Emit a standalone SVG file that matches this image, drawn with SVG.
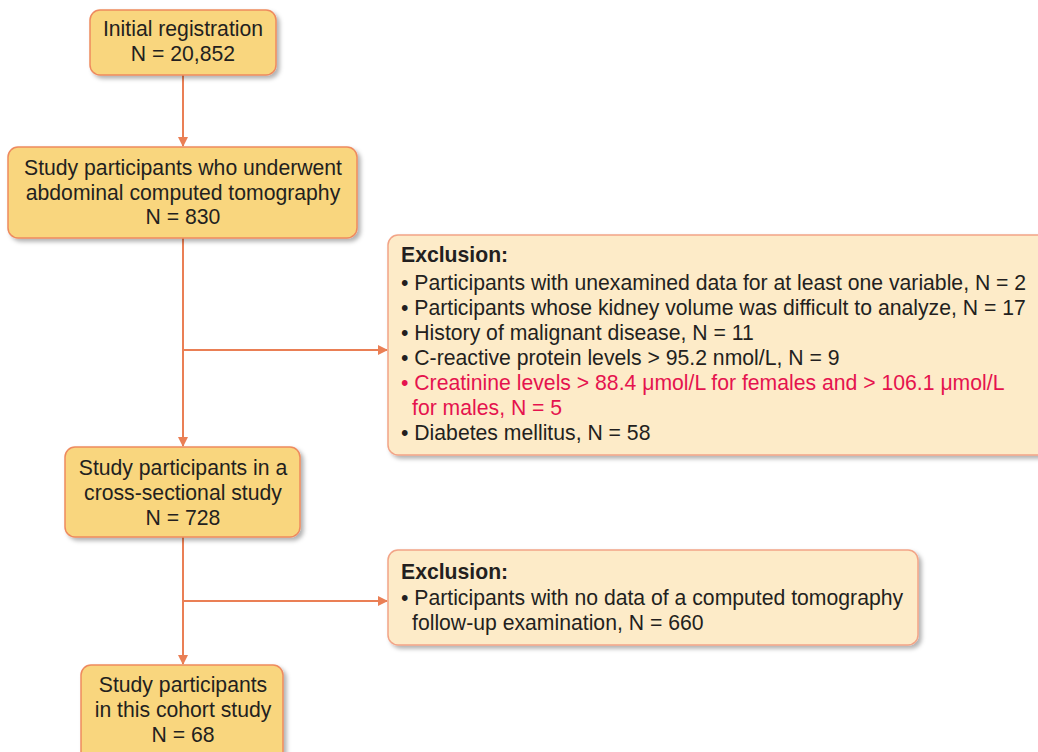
<svg xmlns="http://www.w3.org/2000/svg" width="1038" height="752" viewBox="0 0 1038 752">
<defs>
<style>
.main{fill:#F9D67E;stroke:#EE8A5E;stroke-width:1.5}
.excl{fill:#FDEBC8;stroke:#F2A487;stroke-width:1.5}
.t{font-family:"Liberation Sans",Arial,sans-serif;font-size:21.2px;fill:#231F20}
.c{text-anchor:middle}
.b{font-weight:bold}
.red{fill:#E5134E}
.conn{stroke:#EA7F55;stroke-width:2;fill:none}
</style>
<filter id="sh" x="-10%" y="-10%" width="120%" height="130%">
<feDropShadow dx="3" dy="3" stdDeviation="2" flood-color="#000" flood-opacity="0.3"/>
</filter>
<marker id="ar" viewBox="0 0 10 10" refX="9" refY="5" markerWidth="10" markerHeight="10" orient="auto" markerUnits="userSpaceOnUse">
<path d="M0,0 L10,5 L0,10 z" fill="#EA7F55"/>
</marker>
</defs>
<g id="connectors">
<line class="conn" x1="183" y1="75" x2="183" y2="146" marker-end="url(#ar)"/>
<line class="conn" x1="183" y1="238" x2="183" y2="446" marker-end="url(#ar)"/>
<line class="conn" x1="183" y1="350" x2="387" y2="350" marker-end="url(#ar)"/>
<line class="conn" x1="183" y1="537" x2="183" y2="664" marker-end="url(#ar)"/>
<line class="conn" x1="183" y1="601" x2="387" y2="601" marker-end="url(#ar)"/>
</g>
<g id="n1">
<rect class="main" x="90" y="10" width="186" height="65" rx="10" filter="url(#sh)"/>
<text class="t c" x="183" y="36">Initial registration</text>
<text class="t c" x="183" y="61">N = 20,852</text>
</g>
<g id="n2">
<rect class="main" x="8" y="147" width="349" height="91" rx="10" filter="url(#sh)"/>
<text class="t c" x="183" y="175">Study participants who underwent</text>
<text class="t c" x="183" y="200">abdominal computed tomography</text>
<text class="t c" x="183" y="224">N = 830</text>
</g>
<g id="ex1">
<rect class="excl" x="388" y="235" width="670" height="220" rx="10" filter="url(#sh)"/>
<text class="t b" x="401" y="262">Exclusion:</text>
<text class="t" x="401" y="290">• Participants with unexamined data for at least one variable, N = 2</text>
<text class="t" x="401" y="315">• Participants whose kidney volume was difficult to analyze, N = 17</text>
<text class="t" x="401" y="340">• History of malignant disease, N = 11</text>
<text class="t" x="401" y="365">• C-reactive protein levels &gt; 95.2 nmol/L, N = 9</text>
<text class="t red" x="401" y="390">• Creatinine levels &gt; 88.4 μmol/L for females and &gt; 106.1 μmol/L</text>
<text class="t red" x="412" y="415">for males, N = 5</text>
<text class="t" x="401" y="440">• Diabetes mellitus, N = 58</text>
</g>
<g id="n3">
<rect class="main" x="65" y="447" width="235" height="90" rx="10" filter="url(#sh)"/>
<text class="t c" x="183" y="475">Study participants in a</text>
<text class="t c" x="183" y="500">cross-sectional study</text>
<text class="t c" x="183" y="525">N = 728</text>
</g>
<g id="ex2">
<rect class="excl" x="388" y="550" width="530" height="95" rx="10" filter="url(#sh)"/>
<text class="t b" x="401" y="579">Exclusion:</text>
<text class="t" x="401" y="605">• Participants with no data of a computed tomography</text>
<text class="t" x="412" y="630">follow-up examination, N = 660</text>
</g>
<g id="n4">
<rect class="main" x="81" y="665" width="202" height="100" rx="10" filter="url(#sh)"/>
<text class="t c" x="183" y="692">Study participants</text>
<text class="t c" x="183" y="717">in this cohort study</text>
<text class="t c" x="183" y="742">N = 68</text>
</g>
</svg>
